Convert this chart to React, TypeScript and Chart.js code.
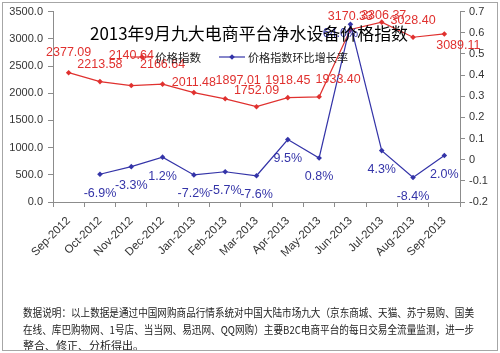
import React, { useEffect, useRef } from 'react';
import { Chart, registerables } from 'chart.js';

Chart.register(...registerables);

const TITLE = '2013年9月九大电商平台净水设备价格指数';
const categories = ['Sep-2012', 'Oct-2012', 'Nov-2012', 'Dec-2012', 'Jan-2013', 'Feb-2013', 'Mar-2013', 'Apr-2013', 'May-2013', 'Jun-2013', 'Jul-2013', 'Aug-2013', 'Sep-2013'];
const priceIndex = [2377.09, 2213.58, 2140.64, 2166.64, 2011.48, 1897.01, 1752.09, 1918.45, 1933.40, 3170.33, 3306.37, 3028.40, 3089.11];
const momGrowth: (number | null)[] = [null, -0.069, -0.033, 0.012, -0.072, -0.057, -0.076, 0.095, 0.008, 0.640, 0.043, -0.084, 0.020];
const seriesNames = ['价格指数', '价格指数环比增长率'];
const footnote = [
  '数据说明：以上数据是通过中国网购商品行情系统对中国大陆市场九大（京东商城、天猫、苏宁易购、国美',
  '在线、库巴购物网、1号店、当当网、易迅网、QQ网购）主要B2C电商平台的每日交易全流量监测，进一步',
  '整合、修正、分析得出。',
];

const RED = '#E0312F';
const BLUE = '#3434A8';
const CJK = '"Noto Sans CJK SC", "Noto Sans", sans-serif';
const NUM = '"Liberation Sans", Arial, sans-serif';

// label offset tweaks (style only): [dx, dy] relative to default placement
const redShift: Record<number, [number, number]> = {
  0: [0, -3], 2: [0, -13], 3: [0, -3], 4: [0, 7], 5: [13, -1], 6: [0, 1], 8: [19, 0], 9: [0, 4], 10: [2, 10], 12: [14, 29],
};
const blueShift: Record<number, [number, number]> = { 9: [-10, -10] };

const overlay = {
  id: 'overlay',
  afterDatasetsDraw(chart: any) {
    const ctx = chart.ctx as CanvasRenderingContext2D;
    ctx.save();
    ctx.textAlign = 'center';
    ctx.textBaseline = 'middle';
    ctx.font = `12.5px ${NUM}`;
    // blue labels
    const bMeta = chart.getDatasetMeta(0);
    ctx.fillStyle = BLUE;
    momGrowth.forEach((v, i) => {
      if (v === null) return;
      const p = bMeta.data[i];
      const s = blueShift[i] || [0, 0];
      ctx.fillText((v * 100).toFixed(1) + '%', p.x + s[0], p.y + 19 + s[1]);
    });
    // red labels
    const rMeta = chart.getDatasetMeta(1);
    ctx.fillStyle = RED;
    priceIndex.forEach((v, i) => {
      const p = rMeta.data[i];
      const s = redShift[i] || [0, 0];
      ctx.fillText(v.toFixed(2), p.x + s[0], p.y - 17 + s[1]);
    });
    ctx.restore();
  },
  afterDraw(chart: any) {
    const ctx = chart.ctx as CanvasRenderingContext2D;
    ctx.save();
    // title
    ctx.fillStyle = '#000';
    ctx.textAlign = 'center';
    ctx.textBaseline = 'middle';
    ctx.font = `17px ${CJK}`;
    ctx.fillText(TITLE, 249, 34, 318);
    // legend
    const drawMarker = (x: number, y: number, c: string) => {
      ctx.fillStyle = c;
      ctx.beginPath();
      ctx.moveTo(x, y - 2.8);
      ctx.lineTo(x + 2.8, y);
      ctx.lineTo(x, y + 2.8);
      ctx.lineTo(x - 2.8, y);
      ctx.closePath();
      ctx.fill();
    };
    const ly = 57;
    ctx.lineWidth = 1.2;
    ctx.strokeStyle = RED;
    ctx.beginPath(); ctx.moveTo(131, ly); ctx.lineTo(153, ly); ctx.stroke();
    drawMarker(142, ly, RED);
    ctx.strokeStyle = BLUE;
    ctx.beginPath(); ctx.moveTo(219, ly); ctx.lineTo(245, ly); ctx.stroke();
    drawMarker(232, ly, BLUE);
    ctx.fillStyle = '#222';
    ctx.textAlign = 'left';
    ctx.font = `11.5px ${CJK}`;
    ctx.fillText(seriesNames[0], 155, ly + 1, 46);
    ctx.fillText(seriesNames[1], 248, ly + 1, 100);
    // footnote
    ctx.font = `11px ${CJK}`;
    ctx.fillStyle = '#222';
    ctx.fillText(footnote[0], 23, 313, 451);
    ctx.fillText(footnote[1], 23, 330, 451);
    ctx.fillText(footnote[2], 23, 346);
    // border
    ctx.strokeStyle = '#A6A6A6';
    ctx.lineWidth = 1;
    ctx.strokeRect(2.5, 2.5, 495, 348);
    ctx.restore();
  },
};

export default function App() {
  const ref = useRef<HTMLCanvasElement>(null);
  useEffect(() => {
    const chart = new Chart(ref.current!, {
      type: 'line',
      data: {
        labels: categories,
        datasets: [
          {
            label: seriesNames[1],
            data: momGrowth,
            yAxisID: 'y1',
            borderColor: BLUE,
            backgroundColor: BLUE,
            borderWidth: 1.2,
            pointStyle: 'rectRot',
            pointRadius: 2.8,
            pointBorderWidth: 0,
            tension: 0,
            spanGaps: false,
          },
          {
            label: seriesNames[0],
            data: priceIndex,
            yAxisID: 'y',
            borderColor: RED,
            backgroundColor: RED,
            borderWidth: 1.2,
            pointStyle: 'rectRot',
            pointRadius: 2.8,
            pointBorderWidth: 0,
            tension: 0,
          },
        ],
      },
      options: {
        responsive: false,
        animation: false,
        layout: { padding: { top: 10, left: 0, right: 0, bottom: 0 } },
        plugins: { legend: { display: false }, title: { display: false }, tooltip: { enabled: false } },
        scales: {
          x: {
            type: 'category',
            offset: true,
            grid: { offset: true, drawOnChartArea: false, tickLength: 5, color: '#8C8C8C' },
            border: { color: '#8C8C8C' },
            ticks: { minRotation: 45, maxRotation: 45, autoSkip: false, color: '#333', font: { size: 11.5, family: NUM }, padding: 7 },
            afterFit: (s: any) => { s.height = 151; },
          },
          y: {
            position: 'left',
            min: 0,
            max: 3500,
            ticks: { stepSize: 500, color: '#333', font: { size: 11, family: NUM }, padding: 5, callback: (v: any) => Number(v).toFixed(1) },
            grid: { drawOnChartArea: false, tickLength: 5, color: '#8C8C8C' },
            border: { color: '#8C8C8C' },
            afterFit: (s: any) => { s.width = 53; },
          },
          y1: {
            position: 'right',
            min: -0.2,
            max: 0.7,
            ticks: {
              stepSize: 0.1,
              color: '#333',
              font: { size: 11, family: NUM },
              padding: 4,
              crossAlign: 'near',
              callback: (v: any) => (Math.abs(v) < 1e-9 ? '0' : String(Math.round(v * 10) / 10)),
            },
            grid: { drawOnChartArea: false, tickLength: 5, color: '#8C8C8C' },
            border: { color: '#8C8C8C' },
            afterFit: (s: any) => { s.width = 40; },
          },
        },
      },
      plugins: [overlay],
    } as any);
    return () => chart.destroy();
  }, []);
  return (
    <div style={{ position: 'absolute', left: 0, top: 0, width: 500, height: 353, background: '#fff' }}>
      <canvas ref={ref} width={500} height={353} style={{ display: 'block' }} />
    </div>
  );
}
